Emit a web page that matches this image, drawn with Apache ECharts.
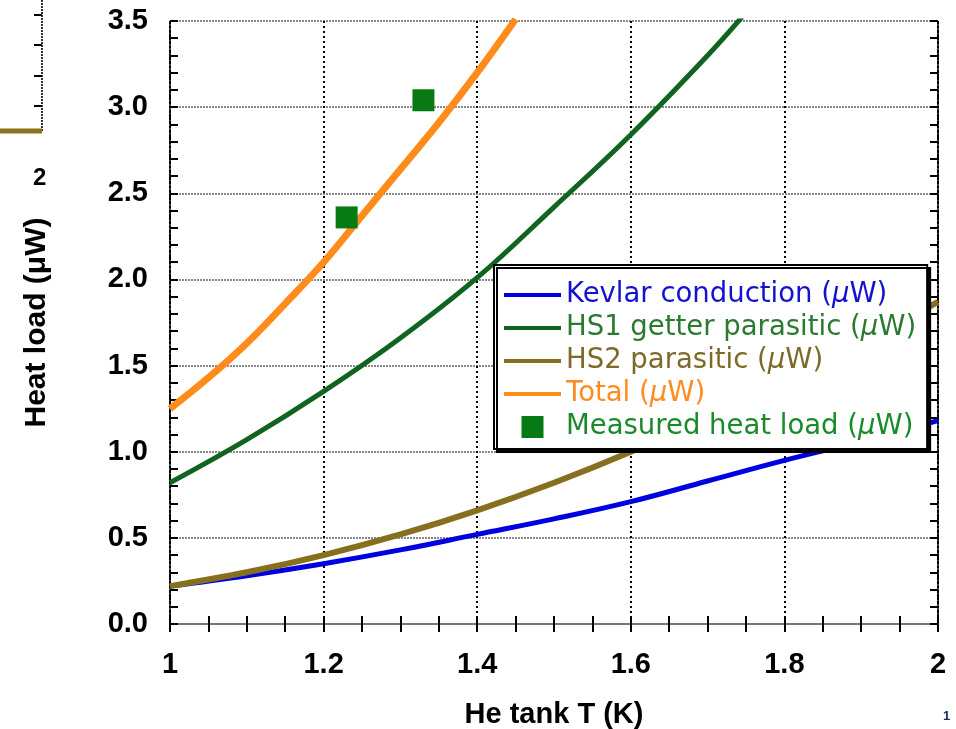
<!DOCTYPE html>
<html>
<head>
<meta charset="utf-8">
<script src="https://cdn.jsdelivr.net/npm/echarts@6/dist/echarts.min.js"></script>
<style>
  html, body { margin: 0; padding: 0; background: #fff; }
  #chart { width: 956px; height: 729px; }
</style>
</head>
<body>
<div id="chart"></div>
<script>
// 氦罐温度 (K)
const tempCoarse = [1.0, 1.1, 1.2, 1.3, 1.4, 1.5, 1.6, 1.7, 1.8, 1.9, 2.0]
const kevlar = [0.22, 0.28, 0.35, 0.43, 0.52, 0.61, 0.71, 0.83, 0.95, 1.06, 1.18]
const hs2 = [0.22, 0.30, 0.40, 0.52, 0.66, 0.82, 1.00, 1.20, 1.41, 1.63, 1.87]
const tempHs1 = [1.0, 1.1, 1.2, 1.3, 1.4, 1.5, 1.6, 1.7, 1.75]
const hs1 = [0.82, 1.07, 1.35, 1.66, 2.01, 2.42, 2.84, 3.30, 3.55]
const tempTotal = [1.0, 1.05, 1.1, 1.15, 1.2, 1.25, 1.3, 1.35, 1.4, 1.45]
const total = [1.25, 1.43, 1.63, 1.86, 2.10, 2.37, 2.64, 2.91, 3.20, 3.51]
const measuredT = [1.23, 1.33]
const measured = [2.36, 3.04]

const pairs = (xs, ys) => xs.map((x, i) => [x, ys[i]])

const chart = echarts.init(document.getElementById('chart'))

const lineIcon = 'path://M0,0 L57,0 L57,4 L0,4 Z'
const squareIcon = 'path://M0,0 L22,0 L22,22 L0,22 Z'
const mirrorTick = { show: true, inside: true, length: 8, lineStyle: { color: '#000', width: 2 } }

chart.setOption({
  animation: false,
  grid: { left: 170, right: 18, top: 21, bottom: 105, outerBoundsMode: 'none' },
  legend: {
    orient: 'vertical',
    left: 494,
    top: 265,
    padding: [16, 11, 8, 10],
    itemWidth: 57,
    itemHeight: 22,
    itemGap: 5,
    backgroundColor: '#fff',
    borderColor: '#000',
    borderWidth: 2,
    shadowColor: '#000',
    shadowBlur: 0,
    shadowOffsetX: 3,
    shadowOffsetY: 3,
    textStyle: {
      fontFamily: 'DejaVu Sans',
      fontSize: 27.5,
      lineHeight: 27,
      rich: { i: { fontStyle: 'italic', fontFamily: 'DejaVu Sans', fontSize: 27.5, lineHeight: 27 } }
    },
    formatter: (name) => name.replace('(μW)', '({i|μ}W)'),
    data: [
      { name: 'Kevlar conduction (μW)', icon: lineIcon, textStyle: { color: '#1212d0' } },
      { name: 'HS1 getter parasitic (μW)', icon: lineIcon, textStyle: { color: '#2a7a30' } },
      { name: 'HS2 parasitic (μW)', icon: lineIcon, textStyle: { color: '#7d6a28' } },
      { name: 'Total (μW)', icon: lineIcon, textStyle: { color: '#ff8c20' } },
      { name: 'Measured heat load (μW)', icon: squareIcon, textStyle: { color: '#1a8a2a' } }
    ]
  },
  xAxis: [
    {
      type: 'value',
      min: 1,
      max: 2,
      interval: 0.2,
      name: 'He tank T (K)',
      nameLocation: 'middle',
      nameGap: 76,
      nameTextStyle: { fontFamily: 'Liberation Sans', fontWeight: 'bold', fontSize: 29, color: '#000' },
      axisLine: { show: true, lineStyle: { color: '#555', width: 2, type: 'dotted' } },
      axisTick: { show: true, inside: true, length: 8, lineStyle: { color: '#000', width: 2 } },
      minorTick: { show: true, splitNumber: 4, length: 8, lineStyle: { color: '#000', width: 2 } },
      axisLabel: {
        margin: 26,
        fontFamily: 'Liberation Sans',
        fontWeight: 'bold',
        fontSize: 29,
        color: '#000'
      },
      splitLine: { show: true, lineStyle: { color: '#000', width: 2, type: [2, 3] } }
    },
    {
      type: 'value',
      position: 'top',
      min: 1,
      max: 2,
      interval: 0.2,
      axisLine: { show: true, lineStyle: { color: '#777', width: 2, type: 'dotted' } },
      axisTick: mirrorTick,
      minorTick: { show: true, splitNumber: 4, length: 8, lineStyle: { color: '#000', width: 2 } },
      axisLabel: { show: false },
      splitLine: { show: false }
    }
  ],
  yAxis: [
    {
      type: 'value',
      min: 0,
      max: 3.5,
      interval: 0.5,
      name: 'Heat load (μW)',
      nameLocation: 'middle',
      nameGap: 118,
      nameTextStyle: { fontFamily: 'Liberation Sans', fontWeight: 'bold', fontSize: 30, color: '#000' },
      axisLine: { show: true, lineStyle: { color: '#000', width: 2, type: 'dotted' } },
      axisTick: { show: true, inside: true, length: 8, lineStyle: { color: '#000', width: 2 } },
      minorTick: { show: true, splitNumber: 5, length: 8, lineStyle: { color: '#000', width: 2 } },
      axisLabel: {
        margin: 22,
        fontFamily: 'Liberation Sans',
        fontWeight: 'bold',
        fontSize: 29,
        color: '#000',
        formatter: (v) => v.toFixed(1)
      },
      splitLine: { show: true, lineStyle: { color: '#888', width: 2, type: [2, 1] } }
    },
    {
      type: 'value',
      position: 'right',
      min: 0,
      max: 3.5,
      interval: 0.5,
      axisLine: { show: true, lineStyle: { color: '#000', width: 2, type: 'dotted' } },
      axisTick: mirrorTick,
      minorTick: { show: true, splitNumber: 5, length: 8, lineStyle: { color: '#000', width: 2 } },
      axisLabel: { show: false },
      splitLine: { show: false }
    }
  ],
  series: [
    {
      name: 'Kevlar conduction (μW)',
      type: 'line',
      smooth: 0.4,
      symbol: 'none',
      color: '#0000e0',
      lineStyle: { width: 5 },
      data: pairs(tempCoarse, kevlar)
    },
    {
      name: 'HS2 parasitic (μW)',
      type: 'line',
      smooth: 0.4,
      symbol: 'none',
      color: '#86701f',
      lineStyle: { width: 6 },
      data: pairs(tempCoarse, hs2)
    },
    {
      name: 'HS1 getter parasitic (μW)',
      type: 'line',
      smooth: 0.4,
      symbol: 'none',
      color: '#116420',
      lineStyle: { width: 5 },
      data: pairs(tempHs1, hs1)
    },
    {
      name: 'Total (μW)',
      type: 'line',
      smooth: 0.4,
      symbol: 'none',
      color: '#ff8c1a',
      lineStyle: { width: 7 },
      data: pairs(tempTotal, total)
    },
    {
      name: 'Measured heat load (μW)',
      type: 'scatter',
      symbol: 'rect',
      symbolSize: 22,
      color: '#077a14',
      itemStyle: { opacity: 1 },
      z: 3,
      data: pairs(measuredT, measured)
    }
  ],
  graphic: [
    // 左侧相邻图的残片
    { type: 'line', shape: { x1: 42, y1: 0, x2: 42, y2: 132 }, style: { stroke: '#333', lineWidth: 2, lineDash: [2, 1] } },
    { type: 'line', shape: { x1: 34, y1: 15, x2: 42, y2: 15 }, style: { stroke: '#000', lineWidth: 2 } },
    { type: 'line', shape: { x1: 34, y1: 45, x2: 42, y2: 45 }, style: { stroke: '#000', lineWidth: 2 } },
    { type: 'line', shape: { x1: 34, y1: 76, x2: 42, y2: 76 }, style: { stroke: '#000', lineWidth: 2 } },
    { type: 'line', shape: { x1: 34, y1: 106, x2: 42, y2: 106 }, style: { stroke: '#000', lineWidth: 2 } },
    { type: 'line', shape: { x1: 0, y1: 131, x2: 42, y2: 131 }, style: { stroke: '#8a7420', lineWidth: 5 } },
    { type: 'text', left: 33, top: 166, style: { text: '2', font: 'bold 24px Liberation Sans', fill: '#000' } },
    { type: 'text', left: 943, top: 710, style: { text: '1', font: 'bold 13px Liberation Sans', fill: '#1a2a5a' } }
  ]
})
</script>
</body>
</html>
